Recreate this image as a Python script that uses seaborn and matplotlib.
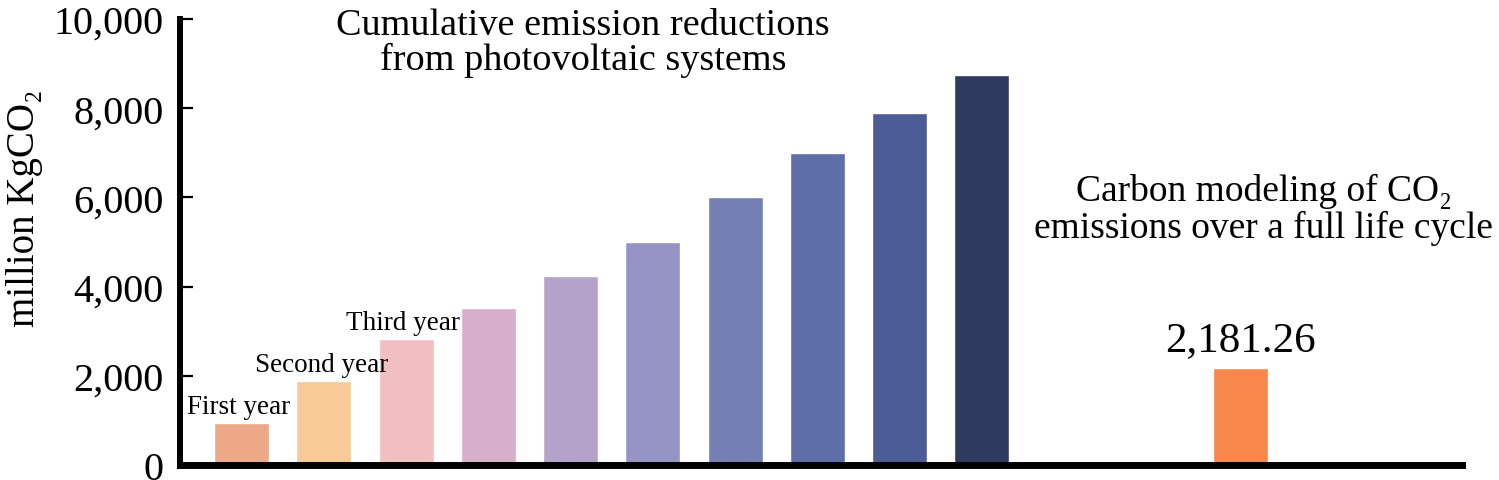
import numpy as np
import pandas as pd
import seaborn as sns
import matplotlib.pyplot as plt

# bar data
bar_names = ["Year 1", "Year 2", "Year 3", "Year 4", "Year 5",
             "Year 6", "Year 7", "Year 8", "Year 9", "Year 10", "Life cycle"]
bar_pos = [0, 1, 2, 3, 4, 5, 6, 7, 8, 9, 12.15]
bar_values = [940, 1880, 2820, 3515, 4235, 4995, 6000, 6990, 7885, 8735, 2181.26]
bar_colors = ["#EDA987", "#F8CB96", "#F1BFC0", "#D8AFCB", "#B5A2CA",
              "#9594C4", "#747FB3", "#5E6FA8", "#4B5C96", "#2F3A60", "#F7874A"]
year_labels = ["First year", "Second year", "Third year"]
y_ticks = [0, 2000, 4000, 6000, 8000, 10000]

df = pd.DataFrame({"pos": bar_pos, "value": bar_values, "name": bar_names})

sns.set_theme(style="white")
plt.rcParams["font.family"] = ["Liberation Serif", "DejaVu Serif"]
plt.rcParams["text.color"] = "black"
plt.rcParams["axes.labelcolor"] = "black"
plt.rcParams["ytick.color"] = "black"

fig = plt.figure(figsize=(14.99, 4.81), dpi=100)
ax = fig.add_axes([180 / 1499, 1 - 466 / 481, (1462 - 180) / 1499, 446 / 481])

sns.barplot(data=df, x="pos", y="value", hue="name", palette=bar_colors,
            native_scale=True, dodge=False, width=0.67, legend=False,
            saturation=1, ax=ax)

ax.set_xlim(-0.75, 14.84)
ax.set_ylim(0, 10000)
ax.set_yticks(y_ticks)
ax.set_yticklabels([f"{t:,}" for t in y_ticks], fontsize=29)
ax.set_xticks([])
ax.set_xlabel("")
ax.tick_params(axis="y", direction="in", length=9, width=1.6, pad=12, left=True)

sns.despine(ax=ax)
ax.spines["left"].set_linewidth(4.3)
ax.spines["bottom"].set_linewidth(5)
for side in ["left", "bottom"]:
    ax.spines[side].set_color("black")

ax.set_ylabel("million KgCO₂", fontsize=28)
ax.yaxis.set_label_coords(-0.121, 0.578)
ax.yaxis.label.set_va("center")

# labels above the first three bars
for i, lab in enumerate(year_labels):
    ax.annotate(lab, (bar_pos[i], bar_values[i]), xytext=(-2, 3),
                textcoords="offset points", ha="center", va="bottom", fontsize=19.5)

# value label on the life-cycle bar
ax.bar_label(ax.containers[-1], labels=[f"{bar_values[-1]:,.2f}"],
             padding=6, fontsize=31)

ax.text(4.15, 9470, "Cumulative emission reductions\nfrom photovoltaic systems",
        ha="center", va="center", fontsize=27.5, linespacing=1.0)
ax.text(12.43, 5740, "Carbon modeling of CO₂\nemissions over a full life cycle",
        ha="center", va="center", fontsize=27, linespacing=1.05)

fig.savefig("out.png", dpi=100)
